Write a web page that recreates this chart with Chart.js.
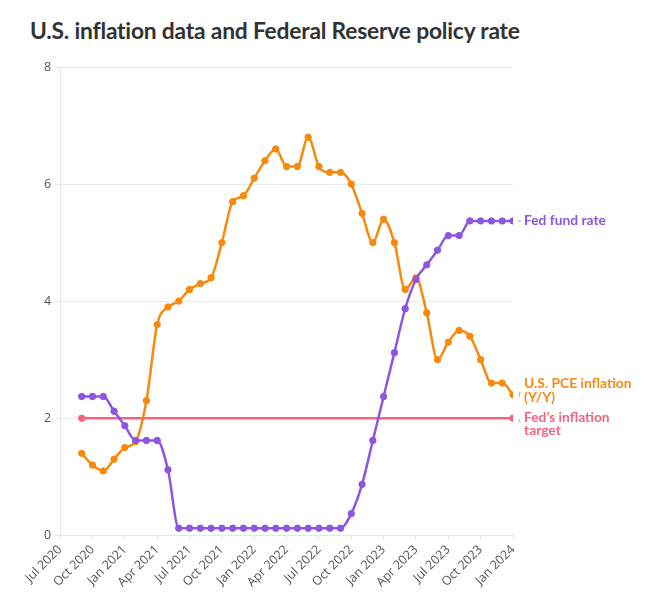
<!DOCTYPE html>
<html>
<head>
<meta charset="utf-8">
<script src="https://cdn.jsdelivr.net/npm/chart.js@4"></script>
<style>
html,body{margin:0;padding:0;background:#fff;}
#wrap{position:relative;width:664px;height:611px;}
#title{position:absolute;left:30px;top:16px;font-family:Lato,"Noto Sans",sans-serif;font-weight:700;font-size:22.8px;color:#333;letter-spacing:-0.2px;}
#c{position:absolute;left:0;top:0;}
</style>
</head>
<body>
<div id="wrap">
<div id="title">U.S. inflation data and Federal Reserve policy rate</div>
<canvas id="c" width="664" height="611"></canvas>
</div>
<script>
// Tick labels: index 0 = Jul 2020 ... index 42 = Jan 2024, one every 3 months
const tickLabels = ["Jul 2020","Oct 2020","Jan 2021","Apr 2021","Jul 2021","Oct 2021","Jan 2022","Apr 2022","Jul 2022","Oct 2022","Jan 2023","Apr 2023","Jul 2023","Oct 2023","Jan 2024"];
// Data months (Sep 2020 .. Jan 2024)
const months = ["2020-09","2020-10","2020-11","2020-12",
 "2021-01","2021-02","2021-03","2021-04","2021-05","2021-06","2021-07","2021-08","2021-09","2021-10","2021-11","2021-12",
 "2022-01","2022-02","2022-03","2022-04","2022-05","2022-06","2022-07","2022-08","2022-09","2022-10","2022-11","2022-12",
 "2023-01","2023-02","2023-03","2023-04","2023-05","2023-06","2023-07","2023-08","2023-09","2023-10","2023-11","2023-12",
 "2024-01"];
const fedFundRate = [2.37,2.37,2.37,2.12,
 1.87,1.62,1.62,1.62,1.12,0.12,0.12,0.12,0.12,0.12,0.12,0.12,
 0.12,0.12,0.12,0.12,0.12,0.12,0.12,0.12,0.12,0.37,0.87,1.62,
 2.37,3.12,3.87,4.37,4.62,4.87,5.12,5.12,5.37,5.37,5.37,5.37,
 5.37];
const pceInflation = [1.4,1.2,1.1,1.3,
 1.5,1.6,2.3,3.6,3.9,4.0,4.2,4.3,4.4,5.0,5.7,5.8,
 6.1,6.4,6.6,6.3,6.3,6.8,6.3,6.2,6.2,6.0,5.5,5.0,
 5.4,5.0,4.2,4.4,3.8,3.0,3.3,3.5,3.4,3.0,2.6,2.6,
 2.4];
const targetMonths = ["2020-09","2024-01"];
const inflationTarget = [2,2];

const seriesLabels = ["Fed fund rate","U.S. PCE inflation\n(Y/Y)","Fed's inflation target"];
const colPurple = "#8e55e0", colOrange = "#f7890c", colPink = "#f2647f";

function monthIndex(s){const [y,m]=s.split("-").map(Number);return (y-2020)*12+(m-1)-6;}
function pts(ms,vals){return ms.map((m,i)=>({x:monthIndex(m),y:vals[i]}));}

const endLabels = {
  id:"endLabels",
  afterDatasetsDraw(chart){
    const ctx=chart.ctx, xs=chart.scales.x, ys=chart.scales.y;
    const items=[
      {ds:0,lines:["Fed fund rate"],dy:0,color:colPurple},
      {ds:1,lines:["U.S. PCE inflation","(Y/Y)"],dy:-11,color:colOrange},
      {ds:2,lines:["Fed's inflation","target"],dy:-1,color:colPink}
    ];
    ctx.save();
    ctx.font="700 13.8px Lato, 'Noto Sans', sans-serif";
    ctx.textBaseline="middle";
    items.forEach(it=>{
      const d=chart.data.datasets[it.ds].data;
      const p=d[d.length-1];
      const px=xs.getPixelForValue(p.x), py=ys.getPixelForValue(p.y);
      const tx=px+11;
      const ty=py+it.dy;
      ctx.strokeStyle="#aaa";ctx.lineWidth=1;
      ctx.beginPath();
      if(it.dy<-2){ctx.moveTo(px+6,py+2);ctx.lineTo(px+7,py-3);}
      else if(it.dy<0){ctx.moveTo(px+6,py+1);ctx.lineTo(px+7,py+4);}
      else {ctx.moveTo(px+5,py);ctx.lineTo(px+8,py);}
      ctx.stroke();
      ctx.fillStyle=it.color;
      it.lines.forEach((l,k)=>{ctx.fillText(l,tx,ty+k*13.5);});
    });
    ctx.restore();
  }
};

new Chart(document.getElementById("c"),{
  type:"line",
  data:{datasets:[
    {label:seriesLabels[0],data:pts(months,fedFundRate),borderColor:colPurple,backgroundColor:colPurple,borderWidth:2.5,pointRadius:3.2,pointBorderWidth:1,pointHoverRadius:3.2,cubicInterpolationMode:"monotone"},
    {label:seriesLabels[1],data:pts(months,pceInflation),borderColor:colOrange,backgroundColor:colOrange,borderWidth:2.5,pointRadius:3.2,pointBorderWidth:1,pointHoverRadius:3.2,cubicInterpolationMode:"monotone"},
    {label:seriesLabels[2],data:pts(targetMonths,inflationTarget),borderColor:colPink,backgroundColor:colPink,borderWidth:2.5,pointRadius:3.2,pointBorderWidth:1,pointHoverRadius:3.2}
  ]},
  options:{
    responsive:false,animation:false,
    layout:{padding:{left:40,right:151,top:67,bottom:19}},
    plugins:{legend:{display:false},tooltip:{enabled:false}},
    scales:{
      x:{type:"linear",min:0,max:42,
        afterBuildTicks(s){s.ticks=tickLabels.map((t,i)=>({value:i*3}));},
        ticks:{autoSkip:false,maxRotation:45,minRotation:45,color:"#555",font:{family:"'Open Sans', sans-serif",size:12.5},
          callback:(v,i)=>tickLabels[i], padding:2},
        grid:{display:true,drawOnChartArea:false,drawTicks:true,tickLength:5,color:"#e6e6e6"},
        border:{display:true,color:"#e6e6e6"}
      },
      y:{min:0,max:8,
        ticks:{stepSize:2,color:"#555",font:{family:"'Open Sans', sans-serif",size:12.5},padding:4},
        grid:{color:"#ebebeb",tickLength:5},
        border:{display:true,color:"#e6e6e6"}
      }
    }
  },
  plugins:[endLabels]
});
</script>
</body>
</html>
